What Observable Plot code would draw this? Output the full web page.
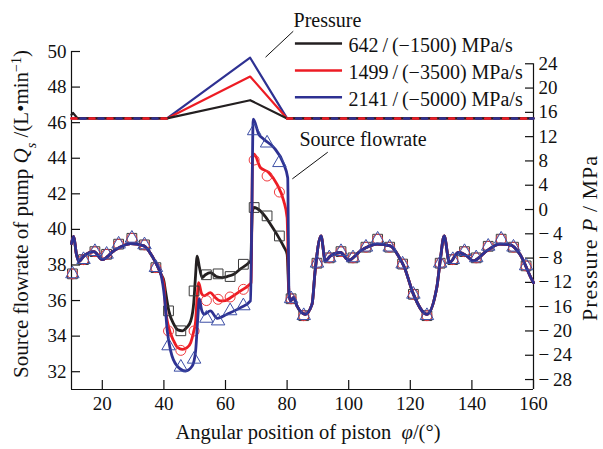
<!DOCTYPE html>
<html><head><meta charset="utf-8">
<script src="https://cdn.jsdelivr.net/npm/d3@7"></script>
<script src="https://cdn.jsdelivr.net/npm/@observablehq/plot@0.6"></script>
<style>body{margin:0;background:#fff}svg{display:block}</style>
</head><body><div id="chart"></div>
<script>
// ---- tick labels ----
const xTicks = [20, 40, 60, 80, 100, 120, 140, 160];
const flowTicks = [32, 34, 36, 38, 40, 42, 44, 46, 48, 50];
const pressureTicks = [24, 20, 16, 12, 8, 4, 0, -4, -8, -12, -16, -20, -24, -28];

// ---- series names / colours ----
const seriesNames = ["642\u2009/\u2009(−1500) MPa/s", "1499\u2009/\u2009(−3500) MPa/s", "2141\u2009/\u2009(−5000) MPa/s"];
const seriesColors = ["#231f20", "#ed1c24", "#2e3192"];
const markerColors = ["#3a3a3a", "#ef3b3f", "#3c4ea5"];
const markerSymbols = ["square", "circle", "triangle"];

// ---- source flowrate curves (angle °, L/min) ----
const flowCommonStart = [[10,39.2],[10.7,39.6],[11.6,38.6],[12.4,38.2],[14,38.5],[17.3,38.75],[20,38.3],[23.8,38.8],[29.2,39.2],[33.5,39.07],[36.5,38.4],[38,37.9],[39,37.5]];
const flowCommonEnd = [[81.1,35.98],[82.1,36.17],[83.2,35.7],[85.9,35.23],[88.1,35.8],[89.1,37.67],[91.0,39.63],[92.4,38.23],[94.0,38.5],[97.3,38.7],[100,38.27],[103.8,38.79],[109.2,39.17],[113.5,39.07],[116.5,38.4],[118,37.9],[121,36.36],[125.4,35.23],[128.6,36.73],[129.7,38.23],[131,39.63],[132.7,38.13],[135.6,38.7],[138.4,38.5],[140.5,38.23],[144.8,38.79],[149.1,39.17],[152.4,39.13],[155.6,38.6],[159.4,37.2],[160,37.0]];
const flowBlackMid = [[40.0,37.1],[40.5,36.54],[41.6,35.42],[43.2,34.67],[44.5,34.35],[46.0,34.3],[47.5,34.5],[48.7,34.85],[49.7,35.9],[50.2,37.2],[50.8,38.5],[51.5,37.9],[52.4,37.29],[53.5,37.45],[55.1,37.57],[57,37.35],[58.9,37.29],[60.5,37.35],[62.7,37.48],[65,37.8],[67.6,38.13],[68.2,38.25],[68.7,41.0],[69.3,41.23],[71.3,41.04],[73,40.7],[74.6,40.29],[77.3,39.54],[79,39.0],[80.0,38.6],[80.6,36.4]];
const flowRedMid = [[40,36.9],[40.5,35.6],[41.6,34.48],[43.2,33.73],[44.5,33.35],[46.0,33.26],[47.5,33.35],[48.7,33.63],[49.6,34.2],[50.3,34.85],[50.8,36.2],[51.3,37.0],[52.2,36.4],[53.0,36.26],[55.1,36.45],[56.5,36.2],[58.4,35.98],[60,36.0],[61.6,36.16],[64.9,36.54],[67.9,36.92],[68.3,37.0],[68.8,44.0],[69.3,44.23],[71.3,43.48],[74.0,43.2],[76.7,42.54],[78.9,41.6],[80.0,40.66],[80.6,36.4]];
const flowBlueMid = [[40.2,36.16],[41.1,34.29],[42.2,33.17],[44.3,32.32],[47.0,32.04],[49.2,32.32],[50.3,33.17],[51.0,35.0],[51.5,36.1],[52.2,35.5],[53.0,35.23],[55.1,35.42],[57.3,35.0],[60.5,35.23],[64.9,35.6],[68.1,35.98],[68.5,40],[69.0,46.2],[70.8,45.35],[72.4,45.07],[75.7,44.6],[78.9,43.67],[80.2,42.9],[80.6,36.4]];

// ---- marker samples ----
const markerAngles = [10.3,13.9,17.6,21.4,25.3,29.6,33.7,37.4,41.5,45.5,49.8,53.8,57.6,61.5,65.8,69.3,73.5,77.5,81.3,85.4,89.7,93.7,97.5,101.4,105.6,109.4,113.3,117.5,121.0,125.4,129.7,133.8,137.6,141.4,145.3,149.5,153.5,157.6];
const markerBlack = [37.5,38.3,38.75,38.6,39.17,39.5,39.13,37.85, 35.42,34.3,36.54,37.45,37.5,37.35,38.04,41.23,40.76,39.63, 36.1,35.15,38.1,38.4,38.75,38.4,39.0,39.45,39.0,38.05,36.35,35.15,38.1,38.3,38.75,38.4,39.05,39.45,39.0,37.95];
const markerRed   = [37.5,38.3,38.75,38.6,39.17,39.5,39.13,37.85, 34.29,33.2,34.29,36.0,36.07,36.2,36.63,43.9,43.0,42.1, 36.1,35.15,38.1,38.4,38.75,38.4,39.0,39.45,39.0,38.05,36.35,35.15,38.1,38.3,38.75,38.4,39.05,39.45,39.0,37.95];
const markerBlue  = [37.5,38.3,38.75,38.6,39.17,39.5,39.13,37.85, 33.45,32.25,32.7,35.0,34.85,35.42,35.7,45.54,44.85,43.75, 36.1,35.15,38.1,38.4,38.75,38.4,39.0,39.45,39.0,38.05,36.35,35.15,38.1,38.3,38.75,38.4,39.05,39.45,39.0,37.95];

// ---- pressure (angle °, MPa) ----
const pressureAngles = [10, 10.5, 12, 41, 68, 80, 160];
const pressureBlack = [15.6, 15.9, 15.0, 15.0, 18.0, 15.0, 15.0];
const pressureRed   = [15.0, 15.0, 15.0, 15.0, 21.9, 15.0, 15.0];
const pressureBlue  = [15.0, 15.0, 15.0, 15.0, 25.0, 15.0, 15.0];

// ---- build tables ----
const FONT = "'Liberation Serif','Times New Roman',serif";
const W = 603, H = 449, mL = 71, mR = 70, mT = 51, mB = 60;
const fw = W - mL - mR, fh = H - mT - mB;
const p2q = d3.scaleLinear().domain([-28, 24]).range([31.56, 49.31]); // right axis → left axis units

const flowLines = [
  flowCommonStart.concat(flowBlackMid, flowCommonEnd),
  flowCommonStart.concat(flowRedMid, flowCommonEnd),
  flowCommonStart.concat(flowBlueMid, flowCommonEnd)
];
const flowRows = s => flowLines[s].map(([x, v]) => ({x, v}));
const markerVals = [markerBlack, markerRed, markerBlue];
const markerRows = s => markerAngles.map((x, i) => ({x, v: markerVals[s][i]}));
const pVals = [pressureBlack, pressureRed, pressureBlue];
const pRows = s => pressureAngles.map((x, i) => ({x, p: pVals[s][i]}));
const legendRows = seriesNames.map((name, i) => ({name, i}));
const fmtP = d => { const v = Math.round(p2q.invert(d)); return v < 0 ? "−\u2009" + Math.abs(v) : String(v); };

const chart = Plot.plot({
  width: W, height: H,
  marginLeft: mL, marginRight: mR, marginTop: mT, marginBottom: mB,
  x: {domain: [10, 160], label: null},
  y: {domain: [31, 50], label: null},
  style: {fontFamily: FONT, fontSize: "19px", color: "#111", background: "white", overflow: "visible"},
  marks: [
    // frame & ticks
    Plot.ruleX([10], {y1: 31, y2: 50, stroke: "#111", strokeWidth: 1.2}),
    Plot.ruleX([160], {y1: 31, y2: p2q(24), stroke: "#111", strokeWidth: 1.2}),
    Plot.ruleY([31], {x1: 10, x2: 160, stroke: "#111", strokeWidth: 1.2}),
    Plot.tickX(xTicks, {x: d => d, insetTop: fh - 9, stroke: "#111", strokeWidth: 1.2}),
    Plot.tickY(flowTicks, {y: d => d, insetRight: fw - 9, stroke: "#111", strokeWidth: 1.2}),
    Plot.tickY(pressureTicks, {y: d => p2q(d), insetLeft: fw - 8, stroke: "#111", strokeWidth: 1.2}),
    Plot.axisX({ticks: xTicks, tickSize: 0, tickPadding: 7, fontSize: 19}),
    Plot.axisY({ticks: flowTicks, tickSize: 0, tickPadding: 5, fontSize: 19}),
    Plot.axisY(pressureTicks.map(p2q), {anchor: "right", tickSize: 0, tickPadding: 5, fontSize: 19, tickFormat: fmtP}),
    // pressure lines
    ...[2, 1, 0].map(s => Plot.line(pRows(s), {x: "x", y: d => p2q(d.p), stroke: seriesColors[s], strokeWidth: 2.2})),
    ...[1, 2].map(s => Plot.line(pRows(s), {x: "x", y: d => (d.x > 41 && d.x < 80) ? NaN : p2q(d.p), stroke: seriesColors[s], strokeWidth: 2.4, strokeDasharray: "5,13", strokeDashoffset: s === 1 ? 0 : 9})),
    // flow lines & markers
    Plot.line(flowRows(0), {x: "x", y: "v", stroke: seriesColors[0], strokeWidth: 2.8, curve: "monotone-x"}),
    Plot.line(flowRows(1), {x: "x", y: "v", stroke: seriesColors[1], strokeWidth: 2.8, curve: "monotone-x"}),
    Plot.dot(markerRows(0), {x: "x", y: "v", symbol: markerSymbols[0], r: 5.5, stroke: markerColors[0], fill: "none", strokeWidth: 1}),
    Plot.dot(markerRows(1), {x: "x", y: "v", symbol: markerSymbols[1], r: 5, stroke: markerColors[1], fill: "none", strokeWidth: 1}),
    Plot.line(flowRows(2), {x: "x", y: "v", stroke: seriesColors[2], strokeWidth: 2.8, curve: "monotone-x"}),
    Plot.dot(markerRows(2), {x: "x", y: "v", symbol: markerSymbols[2], r: 5, stroke: markerColors[2], fill: "none", strokeWidth: 1}),
    // legend
    Plot.ruleY(legendRows, {y: d => [50.45, 48.93, 47.43][d.i], x1: 82.7, x2: 98, stroke: d => seriesColors[d.i], strokeWidth: 2.4}),
    Plot.text(legendRows, {y: d => [50.45, 48.93, 47.43][d.i], x: 99.9, dy: 2, text: "name", textAnchor: "start", lineAnchor: "middle", fontSize: 20, fill: "#111"}),
    // annotations
    Plot.text(["Pressure"], {x: 82.1, y: 51.71, text: d => d, textAnchor: "start", lineAnchor: "middle", fontSize: 20, fill: "#111"}),
    Plot.link([0], {x1: 73.0, y1: 49.68, x2: 82.0, y2: 51.14, stroke: "#111", strokeWidth: 1}),
    Plot.text(["Source flowrate"], {x: 84.0, y: 45.02, text: d => d, textAnchor: "start", lineAnchor: "middle", fontSize: 20, fill: "#111"}),
    Plot.link([0], {x1: 81.7, y1: 42.84, x2: 93.2, y2: 44.34, stroke: "#111", strokeWidth: 1})
  ]
});

const svg = d3.select(chart);
function title(g, parts) {
  parts.forEach(p => {
    const t = g.append("tspan").text(p.t);
    if (p.i) t.attr("font-style", "italic");
    if (p.sub) t.attr("baseline-shift", "sub").attr("font-size", 14);
    if (p.sup) t.attr("baseline-shift", "super").attr("font-size", 14);
  });
}
const tl = svg.append("text").attr("transform", "translate(28,214) rotate(-90)").attr("text-anchor", "middle")
  .attr("font-family", FONT).attr("font-size", 21).attr("fill", "#111");
title(tl, [{t: "Source flowrate of pump "}, {t: "Q", i: 1}, {t: "s", i: 1, sub: 1}, {t: " /(L•min"}, {t: "−1", sup: 1}, {t: ")"}]);
const tb = svg.append("text").attr("x", 308).attr("y", 439).attr("text-anchor", "middle")
  .attr("font-family", FONT).attr("font-size", 20.5).attr("fill", "#111");
title(tb, [{t: "Angular position of piston\u00a0\u00a0"}, {t: "φ", i: 1}, {t: "/(°)"}]);
const tr = svg.append("text").attr("transform", "translate(597,238) rotate(-90)").attr("text-anchor", "middle")
  .attr("font-family", FONT).attr("font-size", 22).attr("letter-spacing", 1).attr("fill", "#111");
title(tr, [{t: "Pressure "}, {t: "P", i: 1}, {t: "\u2009/\u2009MPa"}]);

document.getElementById("chart").append(chart);
</script></body></html>
